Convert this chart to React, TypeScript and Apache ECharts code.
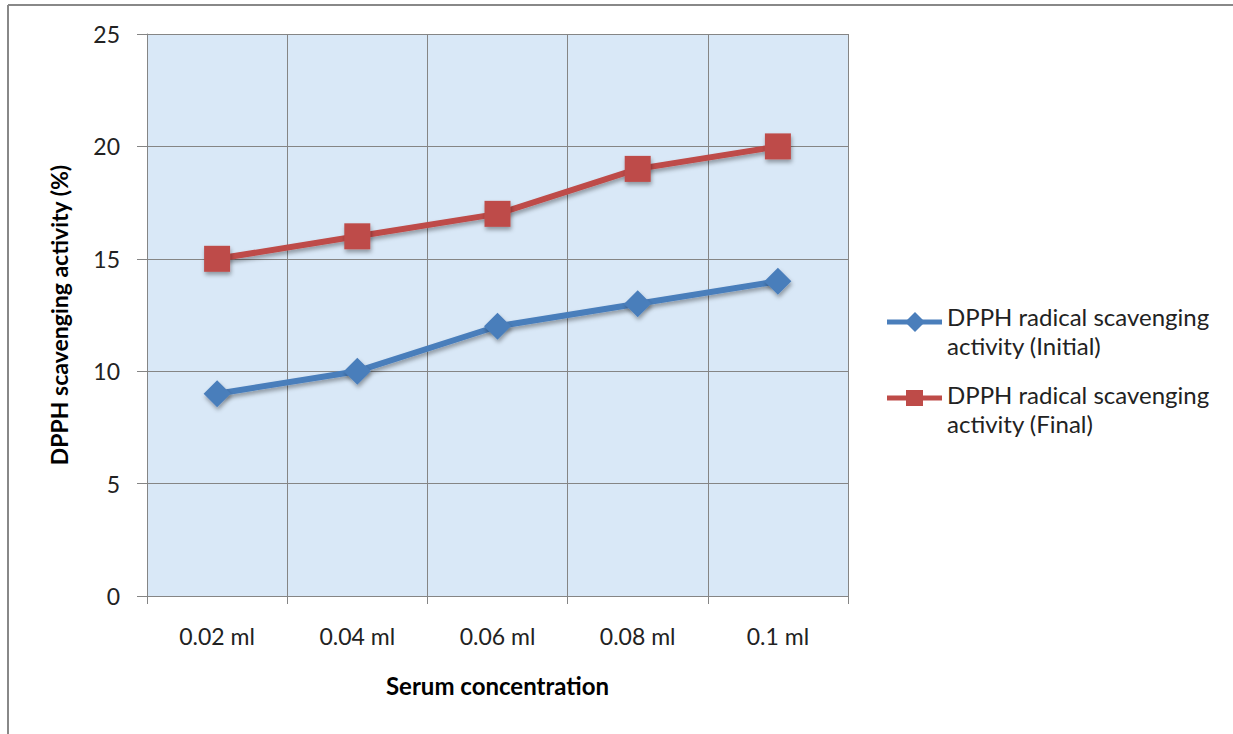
import React, { useEffect, useRef } from "react";
import * as echarts from "echarts";

const categories = ["0.02 ml", "0.04 ml", "0.06 ml", "0.08 ml", "0.1 ml"];
const initialValues = [9, 10, 12, 13, 14];
const finalValues = [15, 16, 17, 19, 20];
const yTicks = { min: 0, max: 25, interval: 5 };
const seriesNames = [
  "DPPH radical scavenging\nactivity (Initial)",
  "DPPH radical scavenging\nactivity (Final)",
];

const BLUE = "#4a7ebb";
const RED = "#be4b48";
const FONT = "Lato, 'Open Sans', sans-serif";

export default function App() {
  const ref = useRef<HTMLDivElement>(null);
  useEffect(() => {
    const chart = echarts.init(ref.current!, null, { renderer: "svg" });
    const shadow = {
      shadowColor: "rgba(0,0,0,0.35)",
      shadowBlur: 4,
      shadowOffsetX: 1,
      shadowOffsetY: 3,
    };
    chart.setOption({
      animation: false,
      backgroundColor: "#ffffff",
      textStyle: { fontFamily: FONT },
      grid: { left: 147, top: 34, width: 701, height: 562, show: true, backgroundColor: "#d9e8f7", borderWidth: 0 },
      xAxis: {
        type: "category",
        data: categories,
        boundaryGap: true,
        axisLine: { show: true, lineStyle: { color: "#858585", width: 1 } },
        axisTick: { show: true, length: 8, lineStyle: { color: "#858585" } },
        axisLabel: { color: "#222", fontSize: 23, margin: 28, fontFamily: FONT },
        splitLine: { show: true, lineStyle: { color: "#858585", width: 1 } },
        name: "Serum concentration",
        nameLocation: "middle",
        nameGap: 77,
        nameTextStyle: { color: "#000", fontSize: 24, fontWeight: "bold", fontFamily: FONT },
      },
      yAxis: {
        type: "value",
        min: yTicks.min,
        max: yTicks.max,
        interval: yTicks.interval,
        axisLine: { show: true, lineStyle: { color: "#858585", width: 1 } },
        axisTick: { show: true, length: 10, lineStyle: { color: "#858585" } },
        axisLabel: { color: "#222", fontSize: 23, margin: 27, fontFamily: FONT },
        splitLine: { show: true, lineStyle: { color: "#858585", width: 1 } },
        name: "DPPH scavenging activity (%)",
        nameLocation: "middle",
        nameGap: 77,
        nameTextStyle: { color: "#000", fontSize: 23, fontWeight: "bold", fontFamily: FONT },
      },
      series: [
        {
          name: seriesNames[0],
          type: "line",
          data: initialValues,
          symbol: "diamond",
          symbolSize: 27,
          lineStyle: { color: BLUE, width: 6, ...shadow },
          itemStyle: { color: BLUE, ...shadow },
        },
        {
          name: seriesNames[1],
          type: "line",
          data: finalValues,
          symbol: "rect",
          symbolSize: 26,
          lineStyle: { color: RED, width: 6, ...shadow },
          itemStyle: { color: RED, ...shadow },
        },
      ],
      graphic: [
        { type: "line", shape: { x1: 8, y1: 5, x2: 8, y2: 734 }, style: { stroke: "#888", lineWidth: 2 } },
        { type: "line", shape: { x1: 8, y1: 5, x2: 1233, y2: 5 }, style: { stroke: "#888", lineWidth: 2 } },
        { type: "line", shape: { x1: 887, y1: 322, x2: 942, y2: 322 }, style: { stroke: BLUE, lineWidth: 5 } },
        { type: "polygon", shape: { points: [[915, 312], [925, 322], [915, 332], [905, 322]] }, style: { fill: BLUE } },
        {
          type: "text", left: 947, top: 302,
          style: { text: seriesNames[0], fill: "#222", fontSize: 24, fontFamily: FONT, lineHeight: 29 },
        },
        { type: "line", shape: { x1: 887, y1: 398, x2: 942, y2: 398 }, style: { stroke: RED, lineWidth: 5 } },
        { type: "rect", shape: { x: 906, y: 390, width: 17, height: 16 }, style: { fill: RED } },
        {
          type: "text", left: 947, top: 380,
          style: { text: seriesNames[1], fill: "#222", fontSize: 24, fontFamily: FONT, lineHeight: 29 },
        },
      ],
    });
    return () => chart.dispose();
  }, []);
  return <div ref={ref} style={{ position: "fixed", left: 0, top: 0, width: 1233, height: 734 }} />;
}
